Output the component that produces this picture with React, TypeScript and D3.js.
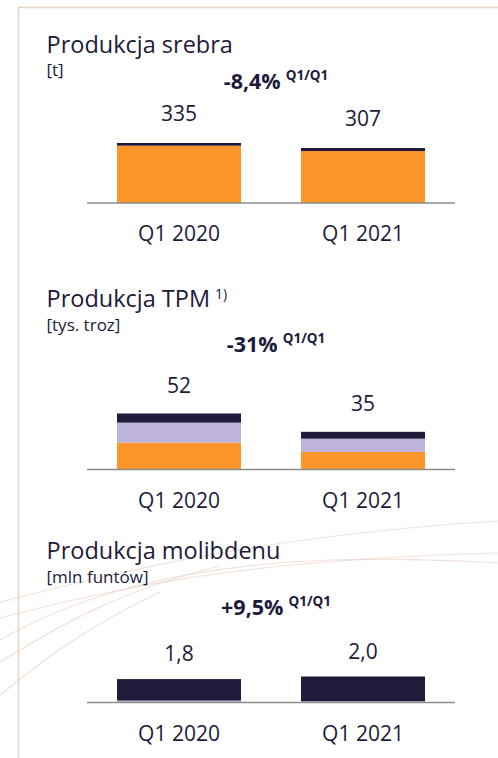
import React from "react";
import * as d3 from "d3";

const categories = ["Q1 2020", "Q1 2021"];

// Silver production [t]
const silverMain = [320, 290];
const silverOther = [15, 17];
const silverLabels = ["335", "307"];

// TPM production [tys. troz]
const tpmOrange = [25, 16.3];
const tpmLavender = [18.5, 12.3];
const tpmDark = [8.5, 6.4];
const tpmLabels = ["52", "35"];

// Molybdenum [mln funtów]
const moLavender = [0.15, 0.1];
const moDark = [1.65, 1.9];
const moLabels = ["1,8", "2,0"];

const ORANGE = "#FD962B";
const NAVY = "#211A3B";
const LAV = "#BDB3DD";
const TEXT = "#1E1A3A";
const FONT = "'Open Sans', 'Noto Sans', sans-serif";

type Panel = {
  title: string;
  titleSup?: string;
  unit: string;
  unitY: number;
  change: string;
  changeY: number;
  keys: string[];
  colors: string[];
  series: number[][];
  labels: string[];
  top: number;
  axisY: number;
  yMax: number;
  yMaxPx: number;
  labelOffset: number;
};

const panels: Panel[] = [
  {
    title: "Produkcja srebra",
    unit: "[t]",
    unitY: 75.5,
    change: "-8,4%",
    changeY: 88.5,
    keys: ["main", "other"],
    colors: [ORANGE, NAVY],
    series: [silverMain, silverOther],
    labels: silverLabels,
    top: 0,
    axisY: 203,
    yMax: 335,
    yMaxPx: 60,
    labelOffset: 22.5,
  },
  {
    title: "Produkcja TPM",
    titleSup: "1)",
    unit: "[tys. troz]",
    unitY: 331,
    change: "-31%",
    changeY: 351.7,
    keys: ["o", "l", "d"],
    colors: [ORANGE, LAV, NAVY],
    series: [tpmOrange, tpmLavender, tpmDark],
    labels: tpmLabels,
    top: 254.5,
    axisY: 469.5,
    yMax: 52,
    yMaxPx: 56,
    labelOffset: 20.5,
  },
  {
    title: "Produkcja molibdenu",
    unit: "[mln funtów]",
    unitY: 583,
    change: "+9,5%",
    changeY: 615,
    keys: ["l", "d"],
    colors: [LAV, NAVY],
    series: [moLavender, moDark],
    labels: moLabels,
    top: 506,
    axisY: 702.5,
    yMax: 2,
    yMaxPx: 26,
    labelOffset: 18,
  },
];

const x = d3
  .scaleBand<string>()
  .domain(categories)
  .range([87, 455])
  .paddingInner(0.326)
  .paddingOuter(0.163);

function PanelView({ p }: { p: Panel }) {
  const y = d3
    .scaleLinear()
    .domain([0, p.yMax])
    .range([p.axisY, p.axisY - p.yMaxPx]);
  const rows = categories.map((c, i) => {
    const r: any = { cat: c };
    p.keys.forEach((k, j) => (r[k] = p.series[j][i]));
    return r;
  });
  const stacked = d3.stack<any>().keys(p.keys)(rows);
  const totals = rows.map((r) => p.keys.reduce((s, k) => s + r[k], 0));
  const t = p.top;
  return (
    <g>
      <text x={46.5} y={t + 52.5} fontSize={23.5} fill={TEXT} fontFamily={FONT}>
        {p.title}
        {p.titleSup && (
          <tspan fontSize={14} dx={5} dy={-8}>
            {p.titleSup}
          </tspan>
        )}
      </text>
      <text x={46.5} y={p.unitY} fontSize={17} fill={TEXT} fontFamily={FONT}>
        {p.unit}
      </text>
      <text
        x={276}
        y={p.changeY}
        fontSize={21.5}
        fontWeight={700}
        fill={TEXT}
        fontFamily={FONT}
        textAnchor="middle"
      >
        {p.change}
        <tspan fontSize={13.5} dx={5} dy={-9}>
          Q1/Q1
        </tspan>
      </text>
      {stacked.map((s, si) =>
        s.map((d, i) => (
          <rect
            key={`${si}-${i}`}
            x={x(categories[i])}
            width={x.bandwidth()}
            y={y(d[1])}
            height={Math.max(0, y(d[0]) - y(d[1]))}
            fill={p.colors[si]}
          />
        ))
      )}
      <line
        x1={87}
        x2={455}
        y1={p.axisY}
        y2={p.axisY}
        stroke="#8C8C8C"
        strokeWidth={1.5}
      />
      {categories.map((c, i) => (
        <g key={c}>
          <text
            x={(x(c) as number) + x.bandwidth() / 2}
            y={y(totals[i]) - p.labelOffset}
            fontSize={21}
            fill={TEXT}
            fontFamily={FONT}
            textAnchor="middle"
          >
            {p.labels[i]}
          </text>
          <text
            x={(x(c) as number) + x.bandwidth() / 2}
            y={p.axisY + 38}
            fontSize={21}
            fill={TEXT}
            fontFamily={FONT}
            textAnchor="middle"
          >
            {c}
          </text>
        </g>
      ))}
    </g>
  );
}

const decoCurves = [
  "M0,602 C120,572 260,536 498,521",
  "M0,618 C110,590 230,560 498,553",
  "M0,640 C70,600 170,566 330,560 C400,558 450,560 498,563",
  "M0,662 C60,625 120,590 220,566",
  "M0,695 C40,662 90,625 160,592",
];

export default function App() {
  return (
    <svg
      width={498}
      height={758}
      style={{ position: "absolute", left: 0, top: 0, background: "#fff" }}
    >
      <rect width={498} height={758} fill="#fff" />
      {decoCurves.map((d, i) => (
        <path
          key={i}
          d={d}
          fill="none"
          stroke="#E8CFC2"
          strokeWidth={1.2}
          opacity={0.6}
        />
      ))}
      <path
        d="M18.5,758 L18.5,7.5 L498,7.5"
        fill="none"
        stroke="#E6D3C3"
        strokeWidth={1.5}
      />
      {panels.map((p, i) => (
        <PanelView key={i} p={p} />
      ))}
    </svg>
  );
}
